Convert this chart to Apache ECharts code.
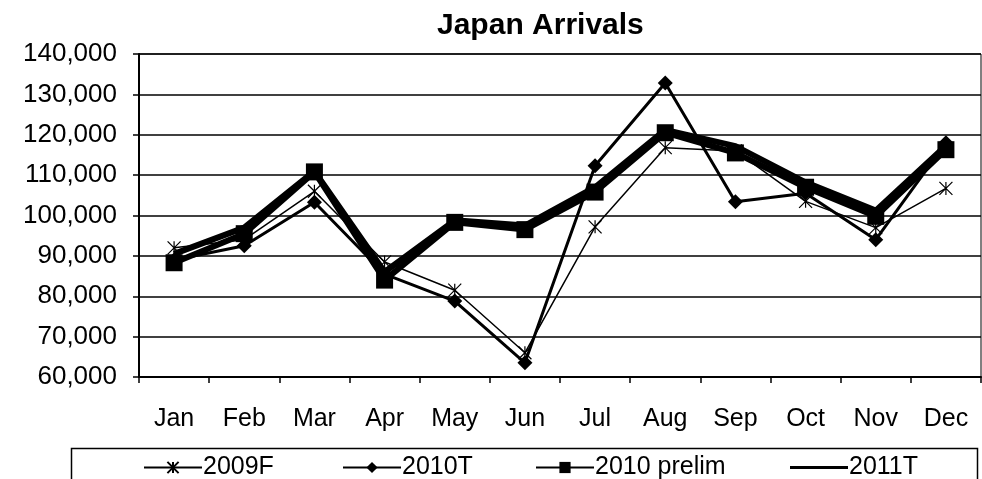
<!DOCTYPE html>
<html>
<head>
<meta charset="utf-8">
<script src="https://cdn.jsdelivr.net/npm/echarts@6/dist/echarts.min.js"></script>
<style>
  html, body { margin: 0; padding: 0; background: #fff; }
  #chart { width: 982px; height: 479px; }
</style>
</head>
<body>
<div id="chart"></div>
<script>
const months = ["Jan", "Feb", "Mar", "Apr", "May", "Jun", "Jul", "Aug", "Sep", "Oct", "Nov", "Dec"];
const f2009 = [92000, 94000, 106000, 88500, 81500, 66000, 97200, 116800, 116000, 103500, 97000, 106700];
const t2010 = [89000, 92500, 103300, 85500, 78800, 63500, 112300, 132800, 103400, 105500, 94000, 118000];
const prelim2010 = [88300, 95500, 110800, 84000, 98300, 96500, 105800, 120500, 115500, 107000, 99800, 116300];
const t2011 = [90500, 97000, 111000, 86000, 98800, 97500, 107000, 121200, 117200, 108200, 101200, 117300];

const yTicks = { min: 60000, max: 140000, step: 10000 };

const font = "Arial, 'Liberation Sans', sans-serif";
const asterisk = "path://M0,0L10,10M10,0L0,10M5,0L5,10";

const chart = echarts.init(document.getElementById("chart"));

// one legend per entry so each sits where the original has it
const legendSpots = [
  { data: ["2009F"], left: 138 },
  { data: ["2010T"], left: 337 },
  { data: ["2010 prelim"], left: 530 },
  { data: ["2011T"], left: 785, icon: "rect", itemHeight: 3 },
];

const option = {
  animation: false,
  backgroundColor: "#fff",
  title: {
    text: "Japan Arrivals",
    left: 432,
    top: 6,
    textStyle: { fontFamily: font, fontSize: 30, fontWeight: "bold", color: "#000" },
  },
  grid: {
    left: 139,
    right: 1,
    top: 54,
    bottom: 102,
    show: true,
    borderColor: "#000",
    borderWidth: 1,
  },
  legend: legendSpots.map((l) => ({
    itemWidth: 58,
    itemHeight: 14,
    itemGap: 0,
    ...l,
    top: 450,
    itemStyle: { color: "#000" },
    textStyle: { fontFamily: font, fontSize: 25, color: "#000", padding: [0, 0, 0, -4] },
  })),
  graphic: [
    {
      type: "rect",
      left: 69,
      top: 446,
      shape: { width: 906, height: 50 },
      style: { fill: "none", stroke: "#000", lineWidth: 1.5 },
      z: -1,
    },
  ],
  xAxis: {
    type: "category",
    data: months,
    axisLine: { lineStyle: { color: "#000", width: 2 } },
    axisTick: { show: true, length: 6, lineStyle: { color: "#000", width: 1.5 } },
    axisLabel: { margin: 30, fontFamily: font, fontSize: 25, color: "#000" },
  },
  yAxis: {
    type: "value",
    min: yTicks.min,
    max: yTicks.max,
    interval: yTicks.step,
    axisLine: { show: true, lineStyle: { color: "#000", width: 2 } },
    axisTick: { show: true, length: 6, lineStyle: { color: "#000", width: 1.5 } },
    axisLabel: {
      margin: 22,
      fontFamily: font,
      fontSize: 26,
      color: "#000",
      formatter: (v) => v.toLocaleString("en-US"),
    },
    splitLine: { lineStyle: { color: "#000", width: 1.5 } },
  },
  series: [
    {
      name: "2011T",
      type: "line",
      data: t2011,
      symbol: "none",
      lineStyle: { color: "#000", width: 6 },
      itemStyle: { color: "#000" },
      z: 2,
    },
    {
      name: "2010 prelim",
      type: "line",
      data: prelim2010,
      symbol: "rect",
      symbolSize: 17,
      lineStyle: { color: "#000", width: 6 },
      itemStyle: { color: "#000" },
      z: 3,
    },
    {
      name: "2010T",
      type: "line",
      data: t2010,
      symbol: "diamond",
      symbolSize: 15,
      lineStyle: { color: "#000", width: 3 },
      itemStyle: { color: "#000" },
      z: 4,
    },
    {
      name: "2009F",
      type: "line",
      data: f2009,
      symbol: asterisk,
      symbolSize: 13,
      lineStyle: { color: "#000", width: 1.5 },
      itemStyle: { color: "#000", borderColor: "#000", borderWidth: 1.2 },
      z: 5,
    },
  ],
};

chart.setOption(option);
</script>
</body>
</html>
